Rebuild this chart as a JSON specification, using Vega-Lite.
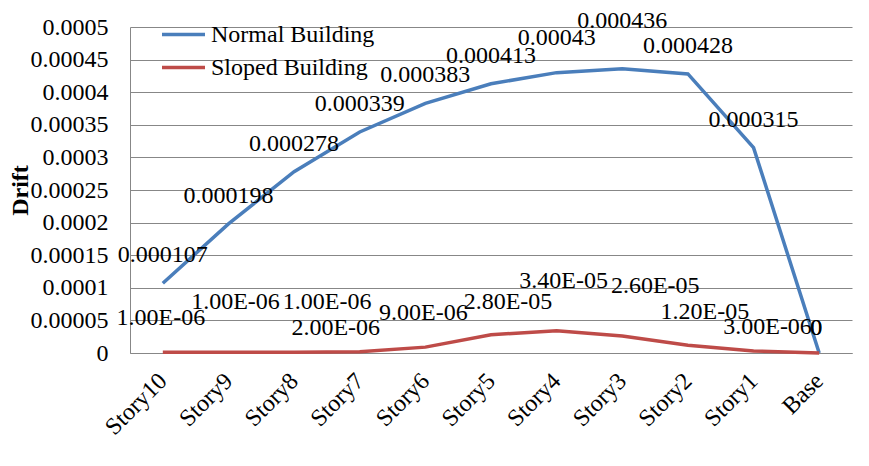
{
  "$schema": "https://vega.github.io/schema/vega-lite/v6.json",
  "width": 722,
  "height": 326,
  "autosize": {"type": "none"},
  "padding": {"left": 130, "top": 27, "right": 17, "bottom": 113},
  "background": "white",
  "config": {"view": {"stroke": null}, "font": "Liberation Serif", "text": {"font": "Liberation Serif", "fontSize": 24, "color": "black"}},
  "data": {
    "values": [
      {"story": "Story10", "series": "Normal Building", "drift": 0.000107, "label": "0.000107"},
      {"story": "Story9", "series": "Normal Building", "drift": 0.000198, "label": "0.000198"},
      {"story": "Story8", "series": "Normal Building", "drift": 0.000278, "label": "0.000278"},
      {"story": "Story7", "series": "Normal Building", "drift": 0.000339, "label": "0.000339"},
      {"story": "Story6", "series": "Normal Building", "drift": 0.000383, "label": "0.000383"},
      {"story": "Story5", "series": "Normal Building", "drift": 0.000413, "label": "0.000413"},
      {"story": "Story4", "series": "Normal Building", "drift": 0.00043, "label": "0.00043"},
      {"story": "Story3", "series": "Normal Building", "drift": 0.000436, "label": "0.000436"},
      {"story": "Story2", "series": "Normal Building", "drift": 0.000428, "label": "0.000428"},
      {"story": "Story1", "series": "Normal Building", "drift": 0.000315, "label": "0.000315"},
      {"story": "Base", "series": "Normal Building", "drift": 0, "label": "0"},
      {"story": "Story10", "series": "Sloped Building", "drift": 0.000001, "label": "1.00E-06"},
      {"story": "Story9", "series": "Sloped Building", "drift": 0.000001, "label": "1.00E-06"},
      {"story": "Story8", "series": "Sloped Building", "drift": 0.000001, "label": "1.00E-06"},
      {"story": "Story7", "series": "Sloped Building", "drift": 0.000002, "label": "2.00E-06"},
      {"story": "Story6", "series": "Sloped Building", "drift": 0.000009, "label": "9.00E-06"},
      {"story": "Story5", "series": "Sloped Building", "drift": 0.000028, "label": "2.80E-05"},
      {"story": "Story4", "series": "Sloped Building", "drift": 0.000034, "label": "3.40E-05"},
      {"story": "Story3", "series": "Sloped Building", "drift": 0.000026, "label": "2.60E-05"},
      {"story": "Story2", "series": "Sloped Building", "drift": 0.000012, "label": "1.20E-05"},
      {"story": "Story1", "series": "Sloped Building", "drift": 0.000003, "label": "3.00E-06"},
      {"story": "Base", "series": "Sloped Building", "drift": 0, "label": "0"}
    ]
  },
  "encoding": {
    "x": {
      "field": "story",
      "type": "nominal",
      "sort": ["Story10", "Story9", "Story8", "Story7", "Story6", "Story5", "Story4", "Story3", "Story2", "Story1", "Base"],
      "scale": {"padding": 0.5},
      "axis": {
        "title": null,
        "labelAngle": -45,
        "labelAlign": "right",
        "labelBaseline": "middle",
        "labelPadding": 24,
        "labelFont": "Liberation Serif",
        "labelFontSize": 24,
        "labelColor": "black",
        "ticks": false,
        "domainColor": "#878787",
        "grid": false
      }
    },
    "y": {
      "field": "drift",
      "type": "quantitative",
      "scale": {"domain": [0, 0.0005], "nice": false},
      "axis": {
        "title": "Drift",
        "titleFont": "Liberation Serif",
        "titleFontSize": 24,
        "titleFontWeight": "bold",
        "titleColor": "black",
        "titlePadding": -2,
        "values": [0, 0.00005, 0.0001, 0.00015, 0.0002, 0.00025, 0.0003, 0.00035, 0.0004, 0.00045, 0.0005],
        "format": "~f",
        "labelFont": "Liberation Serif",
        "labelFontSize": 24,
        "labelColor": "black",
        "labelPadding": 22,
        "ticks": false,
        "domainColor": "#878787",
        "gridColor": "#878787",
        "gridWidth": 1
      }
    }
  },
  "layer": [
    {
      "mark": {"type": "line", "strokeWidth": 3.5},
      "encoding": {
        "color": {
          "field": "series",
          "type": "nominal",
          "scale": {"domain": ["Normal Building", "Sloped Building"], "range": ["#4A7EBB", "#BE4B48"]},
          "legend": {
            "title": null,
            "orient": "none",
            "legendX": 30,
            "legendY": -9,
            "symbolType": "stroke",
            "symbolSize": 1849,
            "symbolStrokeWidth": 3.5,
            "clipHeight": 33,
            "rowPadding": 0,
            "labelOffset": 4,
            "labelLimit": 400,
            "labelFont": "Liberation Serif",
            "labelFontSize": 24,
            "labelColor": "black"
          }
        }
      }
    },
    {
      "transform": [{"filter": "datum.series == 'Normal Building' && indexof(['Story3','Story4','Base'], datum.story) < 0"}],
      "mark": {"type": "text", "dy": -28},
      "encoding": {"text": {"field": "label"}}
    },
    {
      "transform": [{"filter": "datum.series == 'Normal Building' && datum.story == 'Story4'"}],
      "mark": {"type": "text", "dy": -35},
      "encoding": {"text": {"field": "label"}}
    },
    {
      "transform": [{"filter": "datum.series == 'Normal Building' && datum.story == 'Story3'"}],
      "mark": {"type": "text", "dy": -48},
      "encoding": {"text": {"field": "label"}}
    },
    {
      "transform": [{"filter": "datum.series == 'Sloped Building' && indexof(['Story9','Story4'], datum.story) >= 0"}],
      "mark": {"type": "text", "dx": 7, "dy": -50},
      "encoding": {"text": {"field": "label"}}
    },
    {
      "transform": [{"filter": "datum.series == 'Sloped Building' && indexof(['Story8','Story3'], datum.story) >= 0"}],
      "mark": {"type": "text", "dx": 33, "dy": -50},
      "encoding": {"text": {"field": "label"}}
    },
    {
      "transform": [{"filter": "datum.series == 'Sloped Building' && indexof(['Story10','Story6'], datum.story) >= 0"}],
      "mark": {"type": "text", "dx": -2, "dy": -34},
      "encoding": {"text": {"field": "label"}}
    },
    {
      "transform": [{"filter": "datum.series == 'Sloped Building' && indexof(['Story5','Story2'], datum.story) >= 0"}],
      "mark": {"type": "text", "dx": 17, "dy": -33},
      "encoding": {"text": {"field": "label"}}
    },
    {
      "transform": [{"filter": "datum.series == 'Sloped Building' && datum.story == 'Story1'"}],
      "mark": {"type": "text", "dx": 14, "dy": -24},
      "encoding": {"text": {"field": "label"}}
    },
    {
      "transform": [{"filter": "datum.series == 'Sloped Building' && datum.story == 'Story7'"}],
      "mark": {"type": "text", "dx": -24, "dy": -24},
      "encoding": {"text": {"field": "label"}}
    },
    {
      "transform": [{"filter": "datum.story == 'Base'"}],
      "mark": {"type": "text", "dx": -3, "dy": -25},
      "encoding": {"text": {"field": "label"}}
    }
  ]
}
